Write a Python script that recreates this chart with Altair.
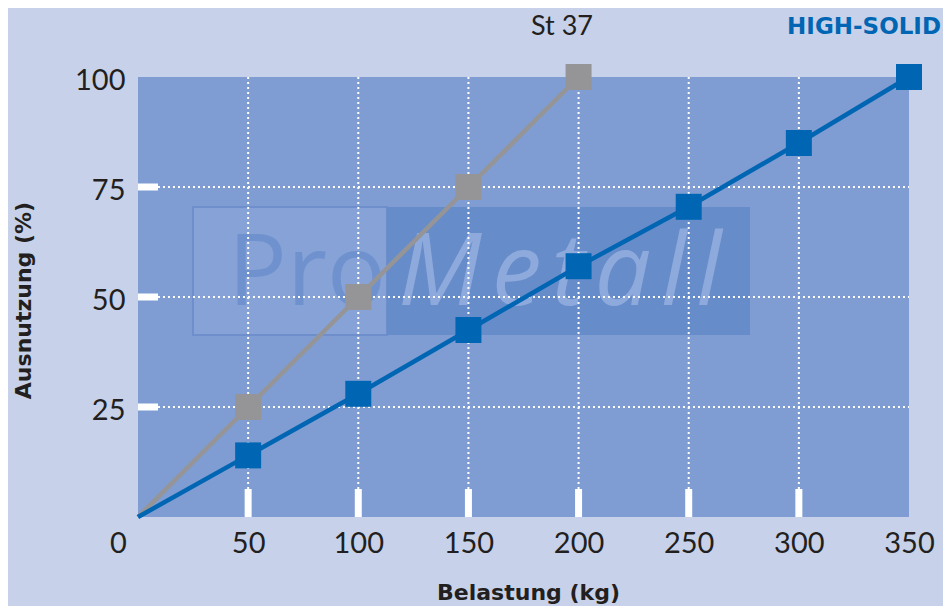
import altair as alt
import pandas as pd

# ---- data ----
loads = [0, 50, 100, 150, 200, 250, 300, 350]
st37_loads = [0, 50, 100, 150, 200]
st37_util = [0, 25, 50, 75, 100]
hs_loads = [0, 50, 100, 150, 200, 250, 300, 350]
hs_util = [0, 14, 28, 42.5, 57, 70.5, 85, 100]
series_names = ["St 37", "HIGH-SOLID"]
series_colors = ["#959598", "#0066b3"]
x_ticks = [0, 50, 100, 150, 200, 250, 300, 350]
y_ticks = [25, 50, 75, 100]
x_grid = [50, 100, 150, 200, 250, 300]
y_grid = [25, 50, 75]

W, H = 771, 440
BG = "#c7d2ea"
PLOT = "#7f9dd2"

df = pd.concat([
    pd.DataFrame({"load": st37_loads, "util": st37_util, "series": series_names[0]}),
    pd.DataFrame({"load": hs_loads, "util": hs_util, "series": series_names[1]}),
])
pts = df[df["load"] > 0]

xs = alt.Scale(domain=[0, 350], nice=False, zero=True)
ys = alt.Scale(domain=[0, 100], nice=False, zero=True)

x_axis = alt.Axis(
    values=x_ticks, title="Belastung (kg)", ticks=False, domain=False, grid=False,
    labelFlush=False,
    labelFont="Lato", labelFontSize=29, labelColor="#231f20", labelPadding=12,
    labelOffset={"condition": {"test": "datum.value == 0", "value": -20}, "value": 0},
    titleFont="DejaVu Sans", titleFontSize=22, titleFontWeight="bold", titleColor="#231f20",
    titleX=390, titleY=75, titleBaseline="middle",
)
y_axis = alt.Axis(
    values=y_ticks, title="Ausnutzung (%)", ticks=False, domain=False, grid=False,
    labelFont="Lato", labelFontSize=29, labelColor="#231f20", labelPadding=13,
    labelBaseline="middle", labelOffset=3,
    titleFont="DejaVu Sans", titleFontSize=22, titleFontWeight="bold", titleColor="#231f20",
    titleX=-115, titleY=223, titleAngle=-90, titleBaseline="middle", titleAlign="center",
)

one = pd.DataFrame({"a": [0]})

# watermark (decorative logo)
wm_left = alt.Chart(one).mark_rect(color="#86a2d6", stroke="#6f8fcc", strokeWidth=2).encode(
    x=alt.value(55), x2=alt.value(249), y=alt.value(130), y2=alt.value(258))
wm_right = alt.Chart(one).mark_rect(color="#658bc9", opacity=0.9).encode(
    x=alt.value(249), x2=alt.value(612), y=alt.value(130), y2=alt.value(258))
wm_pro = alt.Chart(one).mark_text(
    text="Pro", font="Open Sans", fontSize=98, color="#6f92cf", align="left", baseline="alphabetic"
).encode(x=alt.value(90), y=alt.value(228))
wm_metall = alt.Chart(one).mark_text(
    text="M\u200ae\u200at\u200aa\u200al\u200al", font="Open Sans", fontSize=100, fontStyle="italic",
    color="#8eaadc", align="left", baseline="alphabetic"
).encode(x=alt.value(260), y=alt.value(228))

gx = alt.Chart(pd.DataFrame({"load": x_grid})).mark_rule(
    color="white", strokeWidth=2, strokeDash=[2, 3]
).encode(x=alt.X("load:Q", scale=xs, axis=x_axis), y=alt.value(0), y2=alt.value(H))
gy = alt.Chart(pd.DataFrame({"util": y_grid})).mark_rule(
    color="white", strokeWidth=2, strokeDash=[2, 3]
).encode(y=alt.Y("util:Q", scale=ys, axis=y_axis), x=alt.value(0), x2=alt.value(W))

tx = alt.Chart(pd.DataFrame({"load": x_grid})).mark_rule(color="white", strokeWidth=7).encode(
    x=alt.X("load:Q", scale=xs, axis=x_axis), y=alt.value(H - 28), y2=alt.value(H))
ty = alt.Chart(pd.DataFrame({"util": y_grid})).mark_rule(color="white", strokeWidth=7).encode(
    y=alt.Y("util:Q", scale=ys, axis=y_axis), x=alt.value(0), x2=alt.value(20))

color = alt.Color("series:N", scale=alt.Scale(domain=series_names, range=series_colors), legend=None)

lines = alt.Chart(df).mark_line(strokeWidth=4.5).encode(
    x=alt.X("load:Q", scale=xs, axis=x_axis),
    y=alt.Y("util:Q", scale=ys, axis=y_axis),
    color=color, detail="series:N",
)
points = alt.Chart(pts).mark_point(shape="square", filled=True, size=676, opacity=1).encode(
    x=alt.X("load:Q", scale=xs, axis=x_axis),
    y=alt.Y("util:Q", scale=ys, axis=y_axis),
    color=color,
)

lab_st = alt.Chart(one).mark_text(
    text=series_names[0], font="Lato", fontSize=27, color="#231f20", align="center", baseline="middle"
).encode(x=alt.value(424), y=alt.value(-50))
lab_hs = alt.Chart(one).mark_text(
    text=series_names[1], font="DejaVu Sans", fontSize=23, fontWeight="bold", color="#0066b3",
    align="right", baseline="middle"
).encode(x=alt.value(803), y=alt.value(-50))

chart = alt.layer(
    wm_left, wm_right, wm_pro, wm_metall, gx, gy, tx, ty, lines, points, lab_st, lab_hs
).properties(
    width=W, height=H,
    autosize=alt.AutoSizeParams(type="none"),
    padding={"left": 130, "top": 69, "right": 34, "bottom": 89},
    background=BG,
).configure_view(fill=PLOT, stroke=None)

chart.save("out.html", embed_options={"renderer": "svg", "actions": False})
